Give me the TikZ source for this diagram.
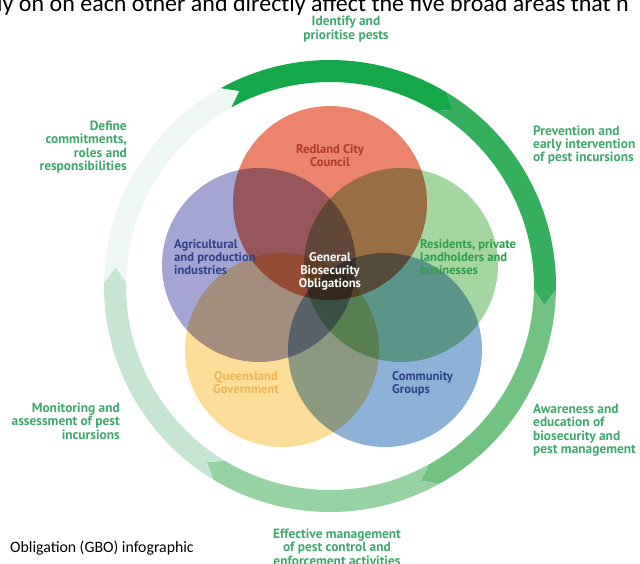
\documentclass[tikz,border=0pt]{standalone}
\usepackage{fontspec}
\setmainfont{PT Sans}
\newfontfamily\docfont{Carlito}
\usepackage{xcolor}
\usepackage{tikz}
\definecolor{ring1}{HTML}{14A84B}
\definecolor{ring2}{HTML}{35AE5D}
\definecolor{ring3}{HTML}{72C283}
\definecolor{ring4}{HTML}{96D2A2}
\definecolor{ring5}{HTML}{C6E5D2}
\definecolor{ring6}{HTML}{EEF7F1}
\definecolor{c_red}{HTML}{EA7A61}
\definecolor{c_pur}{HTML}{9D9DD0}
\definecolor{c_grn}{HTML}{9DD29A}
\definecolor{c_yel}{HTML}{FDDB90}
\definecolor{c_blu}{HTML}{84AAD5}
\definecolor{t_red}{HTML}{B3392D}
\definecolor{t_nav}{HTML}{2E4289}
\definecolor{t_grn}{HTML}{2E9E4B}
\definecolor{t_yel}{HTML}{E8B45C}
\definecolor{t_ext}{HTML}{3DA96C}
\tikzset{
  venn/.style = {fill opacity=0.92, blend mode=multiply},% cercles du diagramme
  lbl_in/.style = {inner sep=0pt, font=\bfseries\fontsize{12.6}{13}\selectfont},% texte dans les cercles
  lbl_ext/.style = {inner sep=0pt, text=t_ext,
    font=\bfseries\fontsize{13.4}{13.4}\selectfont},% texte autour de l'anneau
  doc_txt/.style = {inner sep=0pt, font=\docfont\fontsize{24}{28}\selectfont}% texte du document
}

\begin{document}
\begin{tikzpicture}[x=1pt,y=1pt]
\useasboundingbox (-330,-278) rectangle (310,286);
% anneau de fleches
\foreach \s/\c in {119/ring1,59/ring2,-1/ring3,-61/ring4,-121/ring5,179/ring6}{
  \pgfmathsetmacro{\e}{\s-60}
  \fill[\c] (\s:226) arc[start angle=\s, end angle=\e, radius=226]
    -- ({\e-4}:215) -- (\e:204) arc[start angle=\e, end angle=\s, radius=204]
    -- ({\s-4}:215) -- cycle;
}
% cercles
\fill[venn, fill=c_red] (0,83) circle[radius=97];
\fill[venn, fill=c_pur] (-71,21) circle[radius=97];
\fill[venn, fill=c_grn] (71,21) circle[radius=97];
\fill[venn, fill=c_yel] (-48,-64) circle[radius=97];
\fill[venn, fill=c_blu] (55,-64) circle[radius=97];
% textes
\node[lbl_in, text=t_red, align=center] (rcc) at (0,130) {Redland City\\Council};
\node[lbl_in, text=t_nav, align=left, anchor=west] (agri) at (-156,29)
  {Agricultural\\and production\\industries};
\node[lbl_in, text=t_grn, align=left, anchor=west] (resi) at (90,29)
  {Residents, private\\landholders and\\businesses};
\node[lbl_in, text=t_yel, align=center] (qld) at (-84,-97) {Queensland\\Government};
\node[lbl_in, text=t_nav, align=left, anchor=west] (comm) at (62,-98)
  {Community\\Groups};
\node[lbl_in, text=white, align=center] (gbo) at (0,15)
  {General\\Biosecurity\\Obligations};
\node[lbl_ext, align=center] (ident) at (16,257) {Identify and\\prioritise pests};
\node[lbl_ext, align=left, anchor=west] (prev) at (203,141)
  {Prevention and\\early intervention\\of pest incursions};
\node[lbl_ext, align=left, anchor=west] (aware) at (203,-144)
  {Awareness and\\education of\\biosecurity and\\pest management};
\node[lbl_ext, align=center] (effect) at (7,-261)
  {Effective management\\of pest control and\\enforcement activities};
\node[lbl_ext, align=right, anchor=east] (monit) at (-210,-135)
  {Monitoring and\\assessment of pest\\incursions};
\node[lbl_ext, align=right, anchor=east] (define) at (-203,139)
  {Define\\commitments,\\roles and\\responsibilities};
\node[doc_txt, anchor=base west] (intro) at (-333,274)
  {ly on on each other and directly affect the five broad areas that n};
\node[doc_txt, anchor=west, font=\docfont\fontsize{15.8}{18}\selectfont] (caption) at (-320,-262)
  {Obligation (GBO) infographic};
\end{tikzpicture}
\end{document}
